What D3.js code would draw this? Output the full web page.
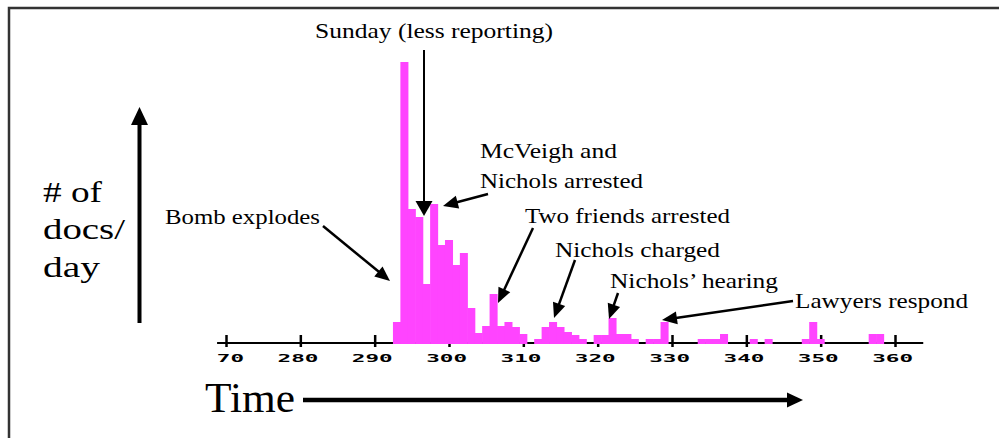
<!DOCTYPE html>
<html>
<head>
<meta charset="utf-8">
<script src="https://d3js.org/d3.v7.min.js"></script>
<style>
  body { margin: 0; background: #fff; }
  svg { display: block; }
  .tick text { font-family: "DejaVu Sans Mono", monospace; font-weight: bold; font-size: 10px; fill: #000; }
</style>
</head>
<body>
<svg width="999" height="438"></svg>
<script>
// docs per day (days without documents are left out)
const days = [293, 294, 295, 296, 297, 298, 299, 300, 301, 302, 303, 304, 305, 306, 307, 308, 309, 310,
              312, 313, 314, 315, 316, 317, 318,
              320, 321, 322, 323, 324, 325,
              327, 328, 329,
              334, 335, 336, 337,
              341, 343,
              348, 349, 350,
              357, 358];
const docs = [21, 281, 134, 126, 59, 139, 98, 103, 78, 90, 35, 10, 17, 49, 17, 21, 16, 9,
              4, 16, 21, 16, 11, 8, 4,
              8, 8, 25, 9, 9, 4,
              4, 4, 21,
              4, 4, 4, 9,
              4, 4,
              4, 21, 4,
              9, 9];
const tickDays = [270, 280, 290, 300, 310, 320, 330, 340, 350, 360];
const tickLabels = ["70", "280", "290", "300", "310", "320", "330", "340", "350", "360"];
const yLabel = ["# of", "docs/", "day"];
const xLabel = "Time";

const svg = d3.select("svg");

var x = d3.scaleLinear().domain([270, 360]).range([226, 895]);
var y = d3.scaleLinear().domain([0, 300]).range([343, 43]);
var base = y(0);

// frame
svg.append("rect")
  .attr("x", 9).attr("y", 8)
  .attr("width", 1200).attr("height", 1000)
  .attr("fill", "none")
  .attr("stroke", "#333")
  .attr("stroke-width", 2.5);

function arrow(x1, y1, x2, y2, w, len, hw) {
  var dx = x2 - x1, dy = y2 - y1;
  var d = Math.sqrt(dx * dx + dy * dy);
  var ux = dx / d, uy = dy / d;
  var bx = x2 - ux * len, by = y2 - uy * len;
  svg.append("line")
    .attr("x1", x1).attr("y1", y1)
    .attr("x2", x2 - ux * len * 0.7).attr("y2", y2 - uy * len * 0.7)
    .attr("stroke", "#000")
    .attr("stroke-width", w);
  svg.append("path")
    .attr("d", "M" + x2 + "," + y2 +
      "L" + (bx - uy * hw / 2) + "," + (by + ux * hw / 2) +
      "L" + (bx + uy * hw / 2) + "," + (by - ux * hw / 2) + "Z")
    .attr("fill", "#000");
}

function note(tx, ty, str, width, size) {
  return svg.append("text")
    .style("font-family", "'Liberation Serif'")
    .style("font-size", (size || 21) + "px")
    .attr("fill", "#000")
    .attr("x", tx).attr("y", ty)
    .attr("textLength", width)
    .attr("lengthAdjust", "spacingAndGlyphs")
    .text(str);
}

// x axis
var xAxis = d3.axisBottom(x)
  .tickValues(tickDays)
  .tickFormat(function (d, i) { return tickLabels[i]; })
  .tickSize(0);

svg.append("line")
  .attr("x1", x(268.8)).attr("x2", x(363.8))
  .attr("y1", base).attr("y2", base)
  .attr("stroke", "#000")
  .attr("stroke-width", 2);

var gx = svg.append("g")
  .attr("transform", "translate(0," + base + ")")
  .call(xAxis);
gx.select(".domain").remove();
gx.selectAll(".tick line")
  .attr("y1", -8).attr("y2", 4)
  .attr("stroke", "#000")
  .attr("stroke-width", 2.5);
gx.selectAll(".tick text")
  .attr("text-anchor", "end")
  .attr("x", 17.5)
  .attr("y", 19)
  .attr("dy", 0)
  .attr("textLength", function (d, i) { return 13.6 * tickLabels[i].length; })
  .attr("lengthAdjust", "spacingAndGlyphs");

// bars
svg.append("g")
  .selectAll("rect")
  .data(days)
  .enter()
  .append("rect")
  .attr("x", function (d) { return x(d - 0.5) - 0.3; })
  .attr("width", function (d) { return x(d + 0.5) - x(d - 0.5) + 0.6; })
  .attr("y", function (d, i) { return y(docs[i]); })
  .attr("height", function (d, i) { return base + 1 - y(docs[i]); })
  .attr("fill", "#ff44ff");

// axis arrows and labels
arrow(139.5, 323, 139.5, 107, 4, 18, 17);
yLabel.forEach(function (s, i) {
  note(43, [202, 239, 277][i], s, [59, 82, 57][i], 29);
});
arrow(303, 400, 803, 400, 4.5, 16, 15);
note(205, 411.5, xLabel, 90, 43);

// annotations
note(315, 38, "Sunday (less reporting)", 238);
arrow(424, 50, 424, 216, 2, 15, 17);

note(165, 224, "Bomb explodes", 155);
arrow(323, 226, 390, 281, 2.5, 15, 13);

note(480, 158, "McVeigh and", 137);
note(480, 188, "Nichols arrested", 163);
arrow(488, 194, 443, 206, 2.5, 15, 13);

note(525, 223, "Two friends arrested", 205);
arrow(533, 228, 498, 303, 2.5, 15, 13);

note(555, 257, "Nichols charged", 165);
arrow(575, 260, 554, 318, 2.5, 15, 13);

note(610, 288, "Nichols\u2019 hearing", 168);
arrow(618, 293, 609, 319, 2.5, 15, 13);

note(795, 308, "Lawyers respond", 173);
arrow(793, 301, 662, 320, 2.5, 15, 13);
</script>
</body>
</html>
